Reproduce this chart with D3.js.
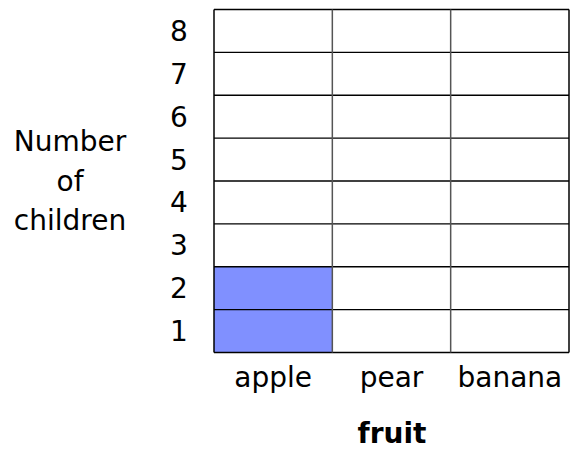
<!DOCTYPE html>
<html>
<head>
<meta charset="utf-8">
<script src="https://cdn.jsdelivr.net/npm/d3@7"></script>
<style>
  body { margin: 0; background: #fff; }
  text { font-family: "Comic Sans MS", "DejaVu Sans", sans-serif; fill: #000; }
</style>
</head>
<body>
<svg id="chart" width="570" height="450"></svg>
<script>
// data
var fruits = ["apple", "pear", "banana"];
var children = [2, 0, 0];
var rowTicks = [1, 2, 3, 4, 5, 6, 7, 8];
var yTitle = ["Number", "of", "children"];
var xTitle = "fruit";

var svg = d3.select('#chart');
var gridLeft = 214, gridRight = 569, gridTop = 9.5, gridBottom = 352.5;

var x = d3.scaleBand().domain(fruits).range([gridLeft, gridRight]);
var y = d3.scaleLinear().domain([0, rowTicks.length]).range([gridBottom, gridTop]);

// one cell per fruit per row, filled up to the count
var cells = [];
fruits.forEach(function(f, i) {
  rowTicks.forEach(function(r) {
    cells.push({ fruit: f, row: r, on: r <= children[i] });
  });
});

svg.selectAll('.cell')
  .data(cells)
  .enter().append('rect')
  .attr('class', 'cell')
  .attr('x', function(d) { return x(d.fruit); })
  .attr('y', function(d) { return y(d.row); })
  .attr('width', x.bandwidth())
  .attr('height', y(0) - y(1))
  .attr('fill', function(d) { return d.on ? '#8090ff' : '#fff'; });

// grid lines
svg.selectAll('.hline')
  .data(d3.range(0, rowTicks.length + 1))
  .enter().append('line')
  .attr('class', 'hline')
  .attr('x1', gridLeft).attr('x2', gridRight)
  .attr('y1', function(d) { return y(d); })
  .attr('y2', function(d) { return y(d); })
  .attr('stroke', '#000').attr('stroke-width', 1.3);

svg.selectAll('.vline')
  .data(fruits.map(function(f) { return x(f); }).concat([gridRight]))
  .enter().append('line')
  .attr('class', 'vline')
  .attr('y1', gridTop).attr('y2', gridBottom)
  .attr('x1', function(d) { return d; })
  .attr('x2', function(d) { return d; })
  .attr('stroke', function(d, i) { return (i === 0 || i === fruits.length) ? '#000' : '#555'; })
  .attr('stroke-width', 1.5);

// row labels
svg.selectAll('.ytick')
  .data(rowTicks)
  .enter().append('text')
  .attr('class', 'ytick')
  .attr('x', 179)
  .attr('y', function(d) { return y(d - 0.5) + 10; })
  .attr('text-anchor', 'middle')
  .attr('font-size', 28)
  .text(function(d) { return d; });

// fruit labels
svg.selectAll('.xtick')
  .data(fruits)
  .enter().append('text')
  .attr('class', 'xtick')
  .attr('x', function(d) { return x(d) + x.bandwidth() / 2; })
  .attr('y', 387)
  .attr('text-anchor', 'middle')
  .attr('font-size', 28)
  .text(function(d) { return d; });

// titles
svg.selectAll('.ytitle')
  .data(yTitle)
  .enter().append('text')
  .attr('class', 'ytitle')
  .attr('x', 70)
  .attr('y', function(d, i) { return 151 + i * 39.5; })
  .attr('text-anchor', 'middle')
  .attr('font-size', 28)
  .text(function(d) { return d; });

svg.append('text')
  .attr('x', 392)
  .attr('y', 443)
  .attr('text-anchor', 'middle')
  .attr('font-size', 28)
  .attr('font-weight', 'bold')
  .text(xTitle);
</script>
</body>
</html>
